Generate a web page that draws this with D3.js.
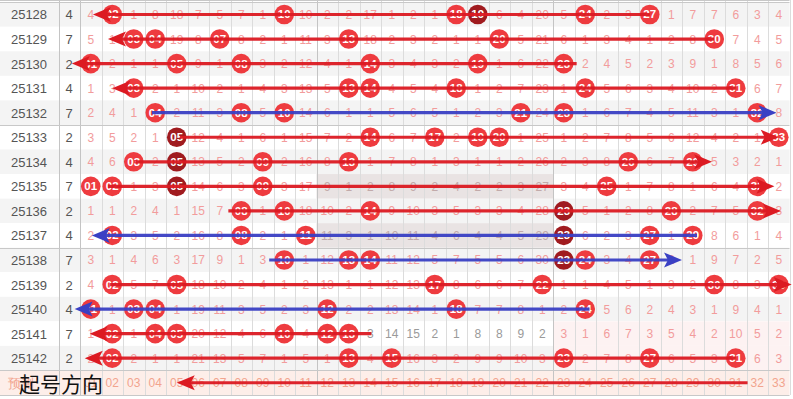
<!DOCTYPE html>
<html>
<head>
<meta charset="utf-8">
<script src="https://cdn.jsdelivr.net/npm/d3@7"></script>
<style>
  body { margin: 0; background: #fff; }
  svg { display: block; font-family: "Liberation Sans", Arial, sans-serif; }
</style>
</head>
<body>
<div id="chart"></div>
<script>
// draw numbers (issue) and the tail digit column
const issues = [25128, 25129, 25130, 25131, 25132, 25133, 25134, 25135, 25136, 25137, 25138, 25139, 25140, 25141, 25142];
const tails  = [4, 7, 2, 4, 7, 2, 4, 7, 2, 4, 7, 2, 4, 7, 2];

// omission per number 01..33, 0 = drawn in that issue
const gaps = [
  [4,0,1,8,18,7,5,7,1,0,10,2,2,17,1,2,1,0,0,6,4,20,5,0,2,3,0,1,7,7,6,3,4],
  [5,1,0,0,19,8,0,8,2,1,11,3,0,18,2,3,2,1,1,0,5,21,6,1,3,4,1,2,8,0,7,4,5],
  [0,2,1,1,0,9,1,0,3,2,12,4,1,0,3,4,3,2,0,1,6,22,0,2,4,5,2,3,9,1,8,5,6],
  [1,3,0,2,1,10,2,1,4,3,13,5,0,0,4,5,4,0,1,2,7,23,1,0,5,6,3,4,10,2,0,6,7],
  [2,4,1,0,2,11,3,0,5,0,14,6,1,1,5,6,5,1,2,3,0,24,0,1,6,7,4,5,11,3,1,0,8],
  [3,5,2,1,0,12,4,1,6,1,15,7,2,0,6,7,0,2,0,0,1,25,1,2,7,8,5,6,12,4,2,1,0],
  [4,6,0,2,0,13,5,2,0,2,16,8,0,1,7,8,1,3,1,1,2,26,2,3,8,0,6,7,0,5,3,2,1],
  [0,0,1,3,0,14,6,3,0,3,17,9,1,2,8,9,2,4,2,2,3,27,3,4,0,1,7,8,1,6,4,0,2],
  [1,1,2,4,1,15,7,0,1,0,18,10,2,0,9,10,3,5,3,3,4,28,0,5,1,2,8,0,2,7,5,0,3],
  [2,0,3,5,2,16,8,0,2,1,0,11,3,1,10,11,4,6,4,4,5,29,0,6,2,3,0,1,0,8,6,1,4],
  [3,1,4,6,3,17,9,1,3,0,1,12,0,0,11,12,5,7,5,5,6,30,0,0,3,4,0,2,1,9,7,2,5],
  [4,0,5,7,0,18,10,2,4,1,2,13,1,1,12,13,0,8,6,6,7,0,1,1,4,5,1,3,2,0,8,3,0],
  [0,1,0,0,1,19,11,3,5,2,3,0,2,2,13,14,1,0,7,7,8,1,2,0,5,6,2,4,3,1,9,4,1],
  [1,0,1,0,0,20,12,4,6,0,4,0,0,3,14,15,2,1,8,8,9,2,3,1,6,7,3,5,4,2,10,5,2],
  [2,0,2,1,1,21,13,5,7,1,5,1,0,4,0,16,3,2,9,9,10,3,0,2,7,8,0,6,5,3,0,6,3]
];

// [row, number] balls shown in dark red (hit three issues running)
const streakHits = [[0,19],[5,5],[6,5],[7,5],[8,23],[9,23],[10,23]];

// direction arrows: row (15 = bottom row), start / tip in column units, colour kind
const arrows = [
  {row: 0,  from: 27.0,  to: 1.1,  kind: "red"},
  {row: 1,  from: 30.0,  to: 1.8,  kind: "red"},
  {row: 2,  from: 23.6,  to: 0.12, kind: "red"},
  {row: 3,  from: 31.0,  to: 2.0,  kind: "red"},
  {row: 4,  from: 3.85,  to: 32.9, kind: "blue"},
  {row: 5,  from: 5.15,  to: 33.0, kind: "red"},
  {row: 6,  from: 3.1,   to: 29.9, kind: "red"},
  {row: 7,  from: 1.8,   to: 32.8, kind: "red"},
  {row: 8,  from: 7.4,   to: 33.1, kind: "red"},
  {row: 9,  from: 29.2,  to: 1.05, kind: "blue"},
  {row: 10, from: 9.3,   to: 28.5, kind: "blue"},
  {row: 11, from: 1.9,   to: 33.6, kind: "red"},
  {row: 12, from: 24.2,  to: 0.25, kind: "blue"},
  {row: 13, from: 14.05, to: 0.95, kind: "red"},
  {row: 14, from: 31.0,  to: 0.72, kind: "red"},
  {row: 15, from: 31.55, to: 5.0,  kind: "red"}
];

// shaded blocks: rows, first..last column
const greyBlocks = [{row: 7, c0: 12, c1: 22}, {row: 9, c0: 12, c1: 22}];
const pinkBlocks = [{row: 13, c0: 23, c1: 33}, {row: 14, c0: 23, c1: 33}];
const mutedText  = [{row: 13, c0: 14, c1: 22}];

const footLabel = "预测";
const caption = "起号方向";

const width = 793, height = 399;
const nums = d3.range(1, 34);
const fmt = d3.format("02d");

const svg = d3.select("#chart").append("svg")
  .attr("width", width).attr("height", height);

const x = d3.scaleLinear().domain([0.5, 33.5]).range([80, 789.5]);
const y = d3.scaleLinear().domain([0, 16]).range([2.2, 395]);
const rowH = y(1) - y(0);
const yc = r => y(r) + rowH / 2;

const colors = {
  red: "#dc1a22", blue: "#3a40c4",
  ball: "#ee3b3f", ballDark: "#a01b1f",
  gap: "#f29c9c", label: "#555"
};

// row backgrounds
svg.selectAll("rect.rowbg").data(issues).enter().append("rect")
  .attr("class", "rowbg")
  .attr("x", 0).attr("y", (d, i) => y(i))
  .attr("width", x(33.5)).attr("height", rowH)
  .attr("fill", (d, i) => i % 2 === 0 ? "#f4f4f4" : "#fff");

svg.append("rect")
  .attr("x", 0).attr("y", y(15)).attr("width", x(33.5)).attr("height", rowH)
  .attr("fill", "#fdeee9");

svg.selectAll("rect.grey").data(greyBlocks).enter().append("rect")
  .attr("x", d => x(d.c0 - 0.5)).attr("y", d => y(d.row))
  .attr("width", d => x(d.c1 + 0.5) - x(d.c0 - 0.5)).attr("height", rowH)
  .attr("fill", "#e9e3e3");

svg.selectAll("rect.pink").data(pinkBlocks).enter().append("rect")
  .attr("x", d => x(d.c0 - 0.5)).attr("y", d => y(d.row))
  .attr("width", d => x(d.c1 + 0.5) - x(d.c0 - 0.5)).attr("height", rowH)
  .attr("fill", "#fdf2f2");

// grid lines
const vlines = d3.range(0, 34).map(c => x(c + 0.5));
svg.selectAll("line.v").data(vlines).enter().append("line")
  .attr("x1", d => Math.round(d) + 0.5).attr("x2", d => Math.round(d) + 0.5)
  .attr("y1", 0).attr("y2", y(16))
  .attr("stroke", "#dcdcdc");

svg.selectAll("line.vg").data([58.5, x(0.5), x(11.5), x(22.5)]).enter().append("line")
  .attr("x1", d => Math.round(d) + 0.5).attr("x2", d => Math.round(d) + 0.5)
  .attr("y1", 0).attr("y2", y(16))
  .attr("stroke", "#c4c4c4");

svg.selectAll("line.h").data([0, 5, 10, 15, 16]).enter().append("line")
  .attr("x1", 0).attr("x2", x(33.5))
  .attr("y1", d => Math.round(y(d)) + 0.5).attr("y2", d => Math.round(y(d)) + 0.5)
  .attr("stroke", "#c8c8c8");
svg.append("line").attr("x1", 0).attr("x2", x(33.5)).attr("y1", 0.5).attr("y2", 0.5)
  .attr("stroke", "#c8c8c8");

// issue and tail digit
svg.selectAll("text.issue").data(issues).enter().append("text")
  .attr("x", 29).attr("y", (d, i) => yc(i) + 5)
  .attr("text-anchor", "middle").attr("font-size", 13).attr("fill", colors.label)
  .text(d => d);

svg.selectAll("text.tail").data(tails).enter().append("text")
  .attr("x", 69).attr("y", (d, i) => yc(i) + 5)
  .attr("text-anchor", "middle").attr("font-size", 13).attr("fill", colors.label)
  .text(d => d);

// flatten cells
const cells = [];
gaps.forEach((row, r) => row.forEach((g, c) => cells.push({r, n: c + 1, g})));

const inBlock = (list, d) => list.some(b => b.row === d.r && d.n >= b.c0 && d.n <= b.c1);

svg.selectAll("text.gap").data(cells.filter(d => d.g > 0)).enter().append("text")
  .attr("x", d => x(d.n)).attr("y", d => yc(d.r) + 4.5)
  .attr("text-anchor", "middle").attr("font-size", 12)
  .attr("fill", d => inBlock(mutedText, d) ? "#9a9a9a" : inBlock(greyBlocks, d) ? "#c2aaaa" : colors.gap)
  .text(d => d.g);

// balls
const hits = cells.filter(d => d.g === 0);
const isStreak = d => streakHits.some(s => s[0] === d.r && s[1] === d.n);
const balls = svg.selectAll("g.ball").data(hits).enter().append("g")
  .attr("transform", d => `translate(${x(d.n)},${yc(d.r)})`);
balls.append("circle").attr("r", 9.8)
  .attr("fill", d => isStreak(d) ? colors.ballDark : colors.ball);
balls.append("text")
  .attr("y", 4).attr("text-anchor", "middle")
  .attr("font-size", 11.5).attr("font-weight", "bold").attr("fill", "#fff")
  .text(d => fmt(d.n));

// bottom row
svg.append("text").attr("x", 8).attr("y", yc(15) + 5)
  .attr("font-size", 13).attr("fill", "#f2a48e")
  .text(footLabel);
svg.selectAll("text.foot").data(nums).enter().append("text")
  .attr("x", d => x(d)).attr("y", yc(15) + 4.5)
  .attr("text-anchor", "middle").attr("font-size", 12).attr("fill", "#f2a48e")
  .text(d => fmt(d));

// arrows
const ag = svg.append("g");
arrows.forEach(a => {
  const x0 = x(a.from), x1 = x(a.to), yy = yc(a.row);
  const dir = x1 > x0 ? 1 : -1;
  const col = colors[a.kind];
  const head = 18, half = 7.5;
  ag.append("line")
    .attr("x1", x0).attr("x2", x1 - dir * head * 0.6)
    .attr("y1", yy).attr("y2", yy)
    .attr("stroke", col).attr("stroke-width", 3.2).attr("opacity", 0.95);
  ag.append("path")
    .attr("d", d3.line()([[x1, yy], [x1 - dir * head, yy - half], [x1 - dir * head * 0.78, yy], [x1 - dir * head, yy + half]]) + "Z")
    .attr("fill", col);
});

// overlay caption
svg.append("text").attr("x", 19).attr("y", 392)
  .attr("font-family", "'Noto Sans CJK SC', sans-serif")
  .attr("font-size", 21).attr("fill", "#111")
  .text(caption);
</script>
</body>
</html>
